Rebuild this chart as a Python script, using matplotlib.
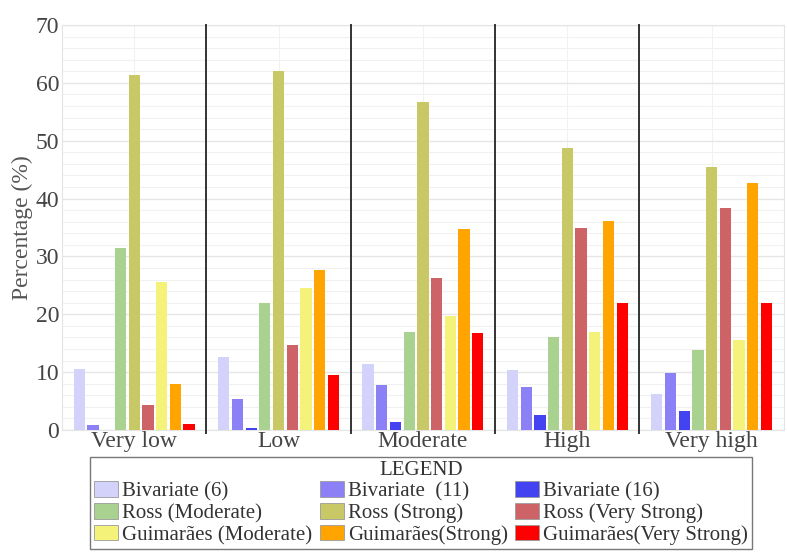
import numpy as np
import matplotlib
matplotlib.use("Agg")
import matplotlib.pyplot as plt
from matplotlib.patches import Patch

plt.rcParams["font.family"] = ["Liberation Serif", "DejaVu Serif"]

CLASSES = ["Very low", "Low", "Moderate", "High", "Very high"]

LEGEND_LABELS = [
    "Bivariate (6)", "Bivariate  (11)", "Bivariate (16)",
    "Ross (Moderate)", "Ross (Strong)", "Ross (Very Strong)",
    "Guimarães (Moderate)", "Guimarães(Strong)", "Guimarães(Very Strong)",
]
COLORS = [
    "#d2d2fb", "#8c80f6", "#4343f2",
    "#a9d18f", "#c8c867", "#cd6367",
    "#f5f27a", "#ffa400", "#fe0000",
]

# percentage of area per susceptibility class, one list per method
bivariate_6 = [10.6, 12.7, 11.4, 10.4, 6.3]
bivariate_11 = [0.8, 5.3, 7.7, 7.4, 9.9]
bivariate_16 = [0.0, 0.4, 1.3, 2.6, 3.3]
ross_moderate = [31.4, 22.0, 17.0, 16.0, 13.8]
ross_strong = [61.3, 62.0, 56.7, 48.8, 45.5]
ross_very_strong = [4.3, 14.7, 26.2, 34.9, 38.4]
guim_moderate = [25.6, 24.5, 19.7, 17.0, 15.5]
guim_strong = [7.9, 27.6, 34.7, 36.1, 42.7]
guim_very_strong = [1.1, 9.5, 16.8, 22.0, 21.9]

values = [bivariate_6, bivariate_11, bivariate_16,
          ross_moderate, ross_strong, ross_very_strong,
          guim_moderate, guim_strong, guim_very_strong]

fig = plt.figure(figsize=(7.87, 5.56), dpi=100)
ax = fig.add_axes([0.0788, 0.2266, 0.9172, 0.7284])

x = np.arange(len(CLASSES))
pitch = 0.095
width = 0.078
for i, (vals, col) in enumerate(zip(values, COLORS)):
    ax.bar(x + (i - 4) * pitch, vals, width=width, color=col, zorder=3)

ax.set_xlim(-0.5, len(CLASSES) - 0.5)
ax.set_ylim(0, 70)
ax.set_yticks(np.arange(0, 71, 10))
ax.set_yticks(np.arange(0, 71, 2), minor=True)
ax.set_xticks(x)
ax.set_xticklabels(CLASSES)

ax.grid(axis="y", which="major", color="#e6e6e6", lw=1.0, zorder=0)
ax.grid(axis="y", which="minor", color="#f1f1f1", lw=0.8, zorder=0)
ax.grid(axis="x", which="major", color="#f1f1f1", lw=0.8, zorder=0)

# dark separators between the classes
for b in x[:-1] + 0.5:
    ax.axvline(b, ymin=-0.008, ymax=1.0, color="#333333", lw=1.4,
               clip_on=False, zorder=4)

for s in ax.spines.values():
    s.set_color("#e4e4e4")
    s.set_linewidth(0.8)

ax.tick_params(axis="both", which="both", length=0, labelsize=17,
               labelcolor="#444444")
ax.tick_params(axis="y", pad=2)
ax.tick_params(axis="x", pad=1)
ax.set_ylabel("Percentage (%)", fontsize=17, color="#555555", labelpad=2)

# legend laid out row by row: reorder handles for column-wise filling
handles = [Patch(facecolor=c, edgecolor="#9a9a9a", lw=0.6) for c in COLORS]
order = [0, 3, 6, 1, 4, 7, 2, 5, 8]
leg = fig.legend([handles[i] for i in order], [LEGEND_LABELS[i] for i in order],
                 loc="center", bbox_to_anchor=(421 / 787, 1 - 503 / 556),
                 ncol=3, title="LEGEND", fontsize=15, title_fontsize=15,
                 frameon=True, fancybox=False, edgecolor="#555555",
                 handlelength=1.15, handleheight=0.75, handletextpad=0.2,
                 columnspacing=0.35, labelspacing=0.1, borderpad=0.2,
                 borderaxespad=0)
leg.get_frame().set_linewidth(1.0)
leg._legend_box.sep = 1
for t in leg.get_texts():
    t.set_color("#333333")
leg.get_title().set_color("#333333")

fig.savefig("out.png", dpi=100)
